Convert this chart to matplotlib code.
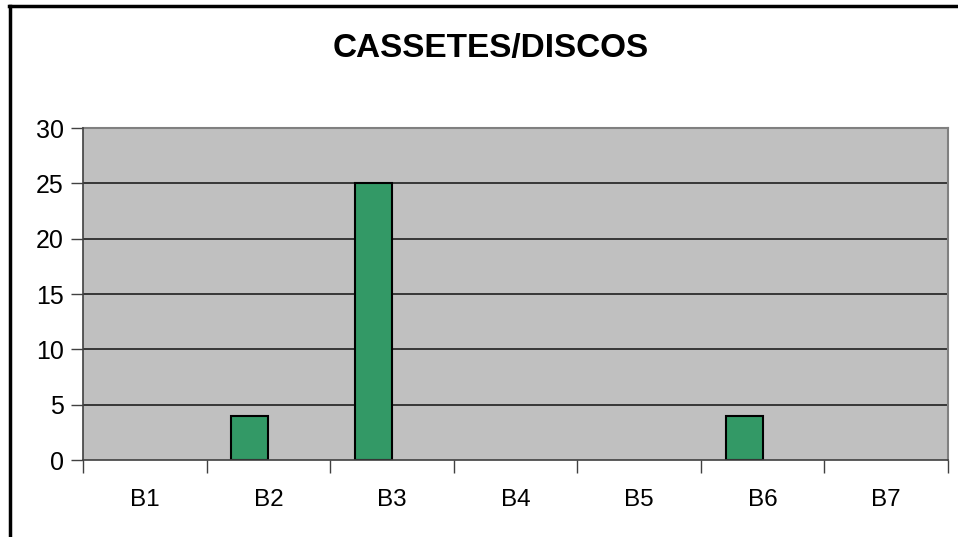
import matplotlib
matplotlib.use("Agg")
import matplotlib.pyplot as plt
import numpy as np
from matplotlib.lines import Line2D

plt.rcParams['font.family'] = ['Liberation Sans', 'DejaVu Sans']

categorias = ["B1", "B2", "B3", "B4", "B5", "B6", "B7"]
valores = [0, 4, 25, 0, 0, 4, 0]
y_ticks = [0, 5, 10, 15, 20, 25, 30]

fig = plt.figure(figsize=(9.58, 5.37), dpi=100)
fig.patch.set_facecolor("white")

# frame around the chart (left and top edges)
fig.add_artist(Line2D([10/958, 10/958], [0, 1 - 6/537], color="black", lw=2.5,
                      transform=fig.transFigure))
fig.add_artist(Line2D([9/958, 1], [1 - 6/537, 1 - 6/537], color="black", lw=2.5,
                      transform=fig.transFigure))

ax = fig.add_axes([83/958, 1 - 460/537, 865/958, 332/537])
ax.set_facecolor("#C0C0C0")

x = np.arange(len(categorias))
for t in y_ticks[1:-1]:
    ax.axhline(t, color="#202020", lw=1.2, zorder=1)
# bars sit to the left of the category centre (empty second series slot)
bordes = [1.5 if v else 0 for v in valores]
ax.bar(x, valores, width=-0.3, align="edge", color="#339966",
       edgecolor="black", linewidth=bordes, zorder=2)

ax.set_xlim(-0.5, len(categorias) - 0.5)
ax.set_ylim(0, 30)

ax.set_yticks(y_ticks)
ax.set_yticklabels([str(t) for t in y_ticks], fontsize=18)
ax.tick_params(axis="y", length=9, width=1, color="#404040", pad=5, direction="out")

ax.set_xticks(np.arange(len(categorias) + 1) - 0.5)
ax.set_xticklabels([])
ax.tick_params(axis="x", which="major", length=9, width=1, color="#404040", direction="out")
ax.set_xticks(x, minor=True)
ax.set_xticklabels(categorias, minor=True, fontsize=17.5)
ax.tick_params(axis="x", which="minor", length=0, pad=21)

for lado in ["top", "right"]:
    ax.spines[lado].set_color("#808080")
    ax.spines[lado].set_linewidth(1.5)
for lado in ["left", "bottom"]:
    ax.spines[lado].set_color("#404040")
    ax.spines[lado].set_linewidth(1.2)
    ax.spines[lado].set_zorder(3)

fig.text(491/958, 1 - 49/537, "CASSETES/DISCOS", ha="center", va="center",
         fontsize=24, fontweight="bold")

fig.savefig("out.png", dpi=100)
